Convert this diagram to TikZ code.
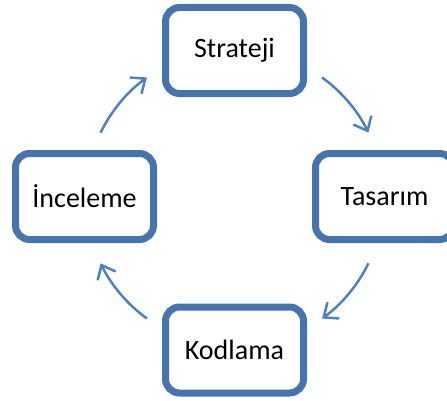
\documentclass[tikz,border=0pt]{standalone}
\usepackage{fontspec}
\setmainfont{Carlito}
\usetikzlibrary{arrows.meta}
\definecolor{boxblue}{RGB}{71,116,172}
\definecolor{arrowblue}{RGB}{79,129,189}
\begin{document}
\begin{tikzpicture}[x=1pt, y=1pt,
    stage/.style={draw=boxblue, line width=7pt, fill=white, rounded corners=14pt,
        minimum width=138pt, minimum height=86pt, font=\fontsize{28}{30}\selectfont},
    cycarrow/.style={arrowblue, line width=2.5pt,
        -{Straight Barb[length=12pt, width=20pt, line width=2.5pt]}}]
    \useasboundingbox (0,0) rectangle (447,400);
    \coordinate (m) at (234.5,202); % centre of the cycle

    \node[stage] (strateji) at (234.5,349.5) {Strateji};
    \node[stage] (tasarim)  at (384.5,203.5) {Tasarım};
    \node[stage] (kodlama)  at (234.5,50)    {Kodlama};
    \node[stage] (inceleme) at (84.5,203.5)  {İnceleme};

    \foreach \a/\b in {154/126, 54/26, -26/-54, -126/-154}
        \draw[cycarrow] ([shift={(\a:149)}]m) arc[start angle=\a, end angle=\b, radius=149];
\end{tikzpicture}
\end{document}
